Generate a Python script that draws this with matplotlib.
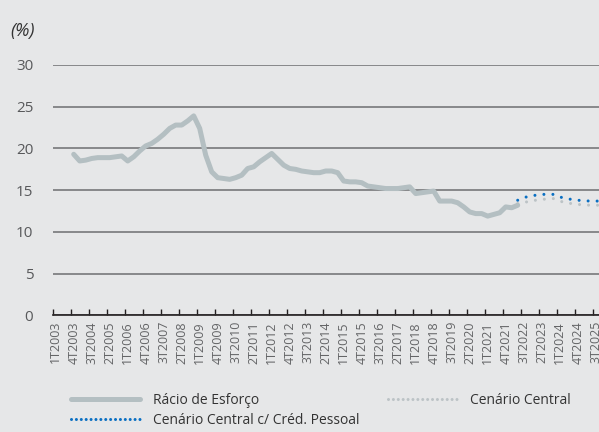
import numpy as np
import matplotlib.pyplot as plt
from matplotlib.lines import Line2D

plt.rcParams['font.family'] = ['Open Sans', 'DejaVu Sans']

# quarters 1T2003 .. 4T2025
quarters = [f"{q}T{y}" for y in range(2003, 2026) for q in range(1, 5)]

# historical effort ratio, 4T2003 .. 2T2022
hist = [19.3, 18.5, 18.6, 18.8, 18.9, 18.9, 18.9, 19.0, 19.1, 18.5,
        19.0, 19.7, 20.3, 20.6, 21.1, 21.7, 22.4, 22.8, 22.8, 23.3,
        23.9, 22.4, 19.2, 17.2, 16.5, 16.4, 16.3, 16.5, 16.8, 17.6,
        17.8, 18.4, 18.9, 19.4, 18.7, 18.0, 17.6, 17.5, 17.3, 17.2,
        17.1, 17.1, 17.3, 17.3, 17.1, 16.1, 16.0, 16.0, 15.9, 15.5,
        15.4, 15.3, 15.2, 15.2, 15.2, 15.3, 15.4, 14.6, 14.7, 14.8,
        14.9, 13.7, 13.7, 13.7, 13.5, 13.0, 12.4, 12.2, 12.2, 11.9,
        12.1, 12.3, 13.0, 12.9, 13.2]
hist_start = quarters.index("4T2003")

# projections, 2T2022 .. 4T2025
central = [13.4, 13.5, 13.7, 13.8, 13.9, 13.95, 14.0, 13.7, 13.5, 13.4,
           13.3, 13.25, 13.2, 13.2, 13.2]
central_cp = [13.8, 14.1, 14.3, 14.4, 14.5, 14.5, 14.5, 14.2, 14.0, 13.9,
              13.8, 13.75, 13.7, 13.7, 13.7]
proj_start = quarters.index("2T2022")

bg = '#e6e7e8'
c_hist = '#b4bfc2'
c_cen = '#bcc3c6'
c_blue = '#0a6fc2'

fig = plt.figure(figsize=(5.99, 4.32), dpi=100, facecolor=bg)
ax = fig.add_axes([0.088, 0.2697, 0.9215, 0.58])
ax.set_facecolor(bg)

xp = np.arange(proj_start, proj_start + len(central))
ax.plot(xp, central, color=c_cen, lw=2.2, dashes=(0.001, 2.95),
        dash_capstyle='round', zorder=3)
ax.plot(xp, central_cp, color=c_blue, lw=2.2, dashes=(0.001, 2.95),
        dash_capstyle='round', zorder=4)
xh = np.arange(hist_start, hist_start + len(hist))
ax.plot(xh, hist, color=c_hist, lw=3.6, solid_capstyle='round',
        solid_joinstyle='round', zorder=5)

ax.set_xlim(-0.5, len(quarters) - 0.5)
ax.set_ylim(0, 30)
ax.set_yticks(range(0, 31, 5))
ax.yaxis.grid(True, color='#6d6e70', lw=1.1)
ax.set_axisbelow(True)
ax.tick_params(axis='y', length=0, pad=14, labelsize=11, labelcolor='#58595b')

lab_pos = list(range(0, len(quarters), 3))
ax.set_xticks(lab_pos)
ax.set_xticklabels([quarters[i] for i in lab_pos], rotation=90,
                   fontsize=9, color='#636466')
ax.set_xticks(np.arange(-0.5, len(quarters), 3), minor=True)
ax.tick_params(axis='x', which='major', length=0, pad=4)
ax.tick_params(axis='x', which='minor', direction='in', length=4,
               width=1, color='#231f20')

for s in ['top', 'right', 'left']:
    ax.spines[s].set_visible(False)
ax.spines['bottom'].set_color('#231f20')
ax.spines['bottom'].set_linewidth(1.2)

fig.text(0.017, 0.95, '(%)', fontsize=13, style='italic', color='#333333',
         va='top')

handles = [
    Line2D([], [], color=c_hist, lw=3.6, solid_capstyle='round'),
    Line2D([], [], color=c_blue, lw=2.2, dashes=(0.001, 1.6),
           dash_capstyle='round'),
    Line2D([], [], color=c_cen, lw=2.2, dashes=(0.001, 1.6),
           dash_capstyle='round'),
]
labels = ['Rácio de Esforço', 'Cenário Central c/ Créd. Pessoal',
          'Cenário Central']
fig.legend(handles, labels, ncol=2, loc='upper left',
           bbox_to_anchor=(0.118, 0.09), bbox_transform=fig.transFigure,
           frameon=False, fontsize=10, handlelength=5.0, handletextpad=0.95,
           columnspacing=2.0, labelspacing=0.35, borderaxespad=0,
           borderpad=0, labelcolor='#333333')

fig.savefig('out.png', dpi=100, facecolor=bg)
